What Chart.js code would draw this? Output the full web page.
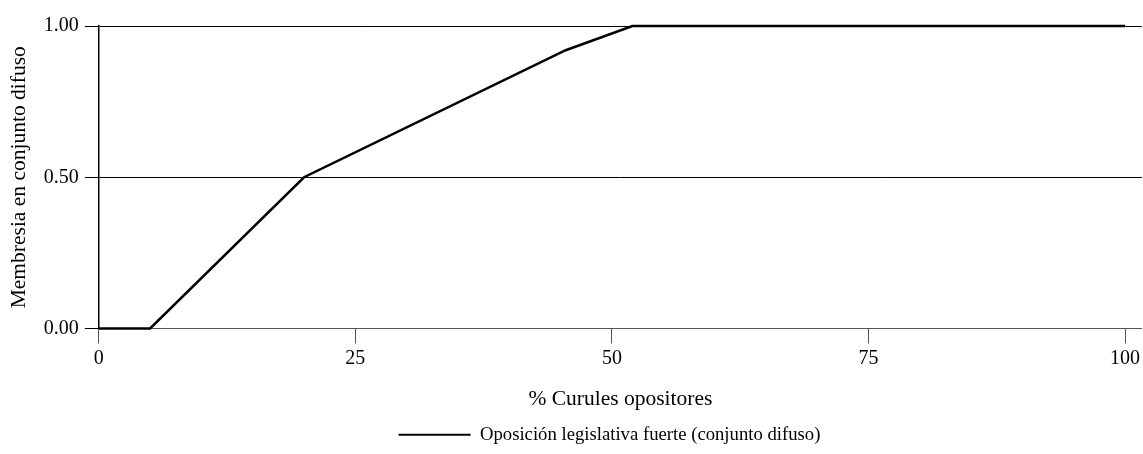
<!DOCTYPE html>
<html>
<head>
<meta charset="utf-8">
<script src="https://cdn.jsdelivr.net/npm/chart.js@4"></script>
<style>
  html, body { margin: 0; padding: 0; background: #fff; }
  #wrap { width: 1143px; height: 454px; }
</style>
</head>
<body>
<div id="wrap"><canvas id="chart"></canvas></div>
<script>
// Membership function points
const curulesPct = [0, 5, 20, 45.5, 52, 100];
const membresia = [0, 0, 0.5, 0.92, 1, 1];
const xTicks = [0, 25, 50, 75, 100];
const yTicks = [0, 0.5, 1];
const seriesLabel = 'Oposición legislativa fuerte (conjunto difuso)';

const serif = "'Liberation Serif', 'DejaVu Serif', serif";

// the legend in the source sits a bit right of centre
const legendShift = {
  id: 'legendShift',
  afterLayout(chart) {
    if (chart.legend) {
      chart.legend.left += 35;
      chart.legend.right += 35;
    }
  }
};

new Chart(document.getElementById('chart'), {
  type: 'line',
  data: {
    datasets: [{
      label: seriesLabel,
      data: curulesPct.map((x, i) => ({ x: x, y: membresia[i] })),
      borderColor: '#000',
      backgroundColor: '#000',
      borderWidth: 2.5,
      pointRadius: 0,
      tension: 0,
      clip: false
    }]
  },
  options: {
    responsive: true,
    maintainAspectRatio: false,
    animation: false,
    layout: { padding: { top: 26, right: 0, left: 6, bottom: 0 } },
    plugins: {
      tooltip: { enabled: false },
      legend: {
        position: 'bottom',
        labels: {
          color: '#000',
          font: { family: serif, size: 18.7 },
          boxWidth: 72,
          boxHeight: 2,
          padding: 10,
          generateLabels: chart => [{
            text: seriesLabel,
            fillStyle: '#000',
            strokeStyle: '#000',
            lineWidth: 0,
            datasetIndex: 0
          }]
        }
      }
    },
    scales: {
      x: {
        type: 'linear',
        min: 0,
        max: 101.65,
        afterBuildTicks: axis => { axis.ticks = xTicks.map(v => ({ value: v })); },
        grid: {
          drawOnChartArea: false,
          drawTicks: true,
          tickLength: 15,
          color: '#555',
          lineWidth: 1
        },
        border: { display: true, color: '#555', width: 1 },
        ticks: {
          color: '#000',
          font: { family: serif, size: 20 },
          padding: 3,
          maxRotation: 0
        },
        title: {
          display: true,
          text: '% Curules opositores',
          color: '#000',
          font: { family: serif, size: 21.5 },
          padding: { top: 13, bottom: 3 }
        }
      },
      y: {
        min: 0,
        max: 1,
        afterBuildTicks: axis => { axis.ticks = yTicks.map(v => ({ value: v })); },
        grid: {
          drawOnChartArea: true,
          drawTicks: true,
          tickLength: 14,
          color: '#000',
          lineWidth: 1
        },
        border: { display: true, color: '#000', width: 1.5 },
        ticks: {
          color: '#000',
          font: { family: serif, size: 20 },
          padding: 6,
          callback: v => Number(v).toFixed(2)
        },
        title: {
          display: true,
          text: 'Membresia en conjunto difuso',
          color: '#000',
          font: { family: serif, size: 21.5 },
          padding: { top: 0, bottom: 6 }
        }
      }
    }
  },
  plugins: [legendShift]
});
</script>
</body>
</html>
